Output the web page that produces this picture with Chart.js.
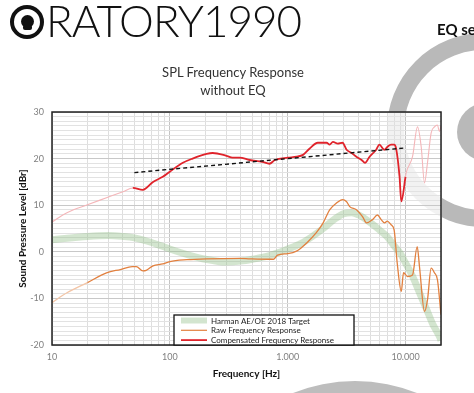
<!DOCTYPE html>
<html><head><meta charset="utf-8">
<script src="https://cdn.jsdelivr.net/npm/chart.js@4.4.1/dist/chart.umd.min.js"></script>
<style>
html,body{margin:0;padding:0;background:#fff;}
#wrap{position:relative;width:474px;height:393px;overflow:hidden;font-family:Lato,"Open Sans",sans-serif;}
canvas{position:absolute;left:0;top:0;}
#logoRing{position:absolute;left:10px;top:5px;width:26px;height:26px;border:4px solid #111;border-radius:50%;}
#logoDot{position:absolute;left:21px;top:15px;width:13px;height:13px;background:#111;border-radius:50%;}
#logoFoot{position:absolute;left:23px;top:25px;width:9px;height:5px;background:#111;border-radius:2px;}
#logoText{position:absolute;left:46px;top:-2px;font-size:44px;line-height:44px;font-weight:300;letter-spacing:-1px;color:#111;white-space:nowrap;}
#eq{position:absolute;left:437px;top:22px;font-size:15px;line-height:15px;font-weight:bold;color:#111;white-space:nowrap;}
#title{position:absolute;left:0;top:63px;width:466px;text-align:center;font-size:13px;line-height:18px;color:#333;}
</style></head>
<body>
<div id="wrap">
<canvas id="c" width="474" height="393"></canvas>
<div id="logoRing"></div><div id="logoDot"></div><div id="logoFoot"></div>
<div id="logoText">RATORY1990</div>
<div id="eq">EQ settings</div>
<div id="title">SPL Frequency Response<br>without EQ</div>
</div>
<script>
// ---- data ----
const targetFreq = [10,15,20,30,40,50,70,100,150,200,300,400,500,700,1000,1300,1600,2000,2500,3000,3500,4000,5000,6000,7000,8000,9000,10000,11500,13000,15000,17000,19500,20000];
const targetDb   = [2.6,3.0,3.3,3.5,3.3,3.0,2.0,0.6,-0.8,-1.6,-2.2,-2.0,-1.6,-0.8,0.6,1.8,3.2,5.0,7.0,8.2,8.4,7.9,6.3,4.7,3.2,1.3,-0.3,-2.4,-5.3,-8.5,-12.2,-15.5,-18.3,-19.0];

const rawFreq = [10,13.4,20,29,38,48,52,59,63,72,87,100,140,205,390,480,700,760,820,1000,1200,1450,1750,2000,2270,2600,2920,3150,3360,3830,4330,4660,5240,5770,6220,6640,7000,7540,8000,8500,9200,9620,10400,11460,12560,13140,14490,15360,16500,17600,18660,20000];
const rawDb   = [-10.9,-8.8,-6.6,-4.5,-3.8,-3.2,-3.2,-4.1,-4.0,-3.0,-2.6,-2.1,-1.7,-1.5,-1.4,-1.5,-1.6,-1.6,-0.7,-0.4,0.2,1.9,4.1,6.2,9.0,10.5,11.2,10.8,9.7,9.0,7.5,6.2,6.9,7.9,6.9,6.2,6.6,5.8,4.7,-2.4,-8.5,-4.5,-5.3,-5.0,1.1,-3.2,-12.8,-10.3,-3.5,-4.5,-6.0,-13.5];

const compFreq = [10,13.4,20,29,40,48.5,59,72,87,100,129,156,205,231,302,340,390,476,610,700,780,1000,1190,1350,1530,1800,2140,2270,2420,2660,2920,3160,3490,3830,4240,4530,4950,5640,6000,6600,7000,7540,8000,8300,8900,9200,10000,10140,11460,12640,13590,14490,15360,16500,17600,18660,19400,20000];
const compDb   = [6.4,8.4,10.1,11.6,12.9,13.7,13.3,15.0,16.1,17.2,19.1,20.0,21.0,21.2,20.6,20.2,20.2,19.7,19.3,18.9,19.7,20.2,20.4,20.8,22.1,23.4,23.4,23.0,23.6,23.2,23.4,21.9,21.2,20.4,19.7,19.1,20.4,21.9,23.0,21.9,22.5,23.0,23.0,22.3,16.1,10.8,16.1,17.0,20.4,26.8,22.5,14.8,19.1,25.5,26.8,27.2,25.8,27.0];

const trendFreq = [50,10000];
const trendDb   = [17.0,22.3];

const seriesLabels = ['Harman AE/OE 2018 Target','Raw Frequency Response','Compensated Frequency Response'];

const gridFreqs = [10,20,30,40,50,60,70,80,90,100,200,300,400,500,600,700,800,900,1000,2000,3000,4000,5000,6000,7000,8000,9000,10000,20000];
const xTickValues = [10,100,1000,10000];
const xTickLabels = ['10','100','1.000','10.000'];
const yTickValues = [-20,-10,0,10,20,30];
const yTickLabels = ['-20','-10','0','10','20','30'];

// ---- styles ----
const COL_TARGET = 'rgba(150,192,140,0.42)';
const COL_RAW = '#E2803F';
const COL_RAW_FADE = '#F3C5A6';
const COL_COMP = '#E0232B';
const COL_COMP_FADE = '#F4B6B9';

const pts = (fx, fy) => fx.map((f, i) => ({x: f, y: fy[i]}));

const watermark = {
  id: 'watermark',
  beforeDraw(chart) {
    const ctx = chart.ctx;
    ctx.save();
    ctx.strokeStyle = '#b9b9b9';
    ctx.lineWidth = 17;
    ctx.beginPath();
    ctx.arc(484, 130, 88.5, 0, Math.PI * 2);
    ctx.stroke();
    ctx.fillStyle = '#b9b9b9';
    ctx.beginPath();
    ctx.arc(486, 132, 29, 0, Math.PI * 2);
    ctx.fill();
    ctx.fillStyle = '#bdbdbd';
    ctx.beginPath();
    ctx.arc(355, 547, 166, 0, Math.PI * 2);
    ctx.fill();
    const a = chart.chartArea;
    ctx.fillStyle = 'rgba(255,255,255,0.82)';
    ctx.fillRect(a.left, a.top, a.right - a.left, a.bottom - a.top);
    ctx.restore();
  }
};

const frameLegend = {
  id: 'frameLegend',
  afterDatasetsDraw(chart) {
    const ctx = chart.ctx;
    const a = chart.chartArea;
    ctx.save();
    ctx.strokeStyle = '#222';
    ctx.lineWidth = 1.5;
    ctx.strokeRect(a.left, a.top, a.right - a.left, a.bottom - a.top);
    // legend box
    const bx = a.left + 122, bw = 180, bh = 30, by = a.bottom - bh;
    ctx.fillStyle = '#fff';
    ctx.fillRect(bx, by, bw, bh);
    ctx.strokeStyle = '#111';
    ctx.lineWidth = 1.3;
    ctx.strokeRect(bx, by, bw, bh);
    const items = [
      {label: seriesLabels[0], color: COL_TARGET, w: 6},
      {label: seriesLabels[1], color: COL_RAW, w: 1.2},
      {label: seriesLabels[2], color: COL_COMP, w: 1.8}
    ];
    ctx.font = '8px Lato, "Open Sans", sans-serif';
    ctx.textBaseline = 'middle';
    items.forEach((it, i) => {
      const y = by + 5.5 + i * 9.8;
      ctx.strokeStyle = it.color;
      ctx.lineWidth = it.w;
      ctx.beginPath();
      ctx.moveTo(bx + 7, y);
      ctx.lineTo(bx + 33, y);
      ctx.stroke();
      ctx.fillStyle = '#222';
      ctx.fillText(it.label, bx + 37, y + 0.5);
    });
    ctx.restore();
  }
};

new Chart(document.getElementById('c'), {
  type: 'line',
  data: {
    datasets: [
      {
        label: 'trend',
        data: pts(trendFreq, trendDb),
        borderColor: '#111', borderWidth: 1.4, borderDash: [4, 3],
        pointRadius: 0, fill: false
      },
      {
        label: seriesLabels[2],
        data: pts(compFreq, compDb),
        borderColor: COL_COMP, borderWidth: 1.8, pointRadius: 0, fill: false,
        cubicInterpolationMode: 'monotone',
        segment: {
          borderColor: c => (c.p0.parsed.x < 48 || c.p0.parsed.x >= 10000) ? COL_COMP_FADE : COL_COMP,
          borderWidth: c => (c.p0.parsed.x < 48 || c.p0.parsed.x >= 10000) ? 1.1 : 1.8
        }
      },
      {
        label: seriesLabels[1],
        data: pts(rawFreq, rawDb),
        borderColor: COL_RAW, borderWidth: 1.3, pointRadius: 0, fill: false,
        cubicInterpolationMode: 'monotone',
        segment: {
          borderColor: c => (c.p0.parsed.x < 18) ? COL_RAW_FADE : COL_RAW
        }
      },
      {
        label: seriesLabels[0],
        data: pts(targetFreq, targetDb),
        borderColor: COL_TARGET, borderWidth: 7, pointRadius: 0, fill: false,
        cubicInterpolationMode: 'monotone'
      }
    ]
  },
  options: {
    responsive: false,
    animation: false,
    devicePixelRatio: 1,
    layout: {padding: {top: 112, right: 33, bottom: 0, left: 0}},
    plugins: {legend: {display: false}, title: {display: false}, tooltip: {enabled: false}},
    scales: {
      x: {
        type: 'logarithmic', min: 10, max: 20000,
        afterBuildTicks: s => { s.ticks = gridFreqs.map(v => ({value: v})); },
        afterFit: s => { s.height = 48; },
        grid: {
          drawTicks: false,
          color: c => xTickValues.includes(c.tick && c.tick.value) ? '#c4c4c4' : '#dedede',
          lineWidth: 1
        },
        border: {display: false},
        ticks: {
          autoSkip: false, maxRotation: 0, padding: 7,
          color: '#808080', font: {family: 'Lato', size: 9},
          callback: v => { const i = xTickValues.indexOf(v); return i >= 0 ? xTickLabels[i] : ''; }
        },
        title: {
          display: true, text: 'Frequency [Hz]', color: '#111',
          font: {family: 'Lato', size: 10, weight: 'bold', lineHeight: 1.2},
          padding: {top: 0, bottom: 13}
        }
      },
      y: {
        min: -20, max: 30,
        afterFit: s => { s.width = 52; },
        grid: {
          drawTicks: false,
          color: c => yTickValues.includes(c.tick && c.tick.value) ? '#c8c8c8' : '#e2e2e2',
          lineWidth: 1
        },
        border: {display: false},
        ticks: {
          stepSize: 1, autoSkip: false, padding: 8,
          color: '#808080', font: {family: 'Lato', size: 9},
          callback: v => { const i = yTickValues.indexOf(v); return i >= 0 ? yTickLabels[i] : ''; }
        },
        title: {
          display: true, text: 'Sound Pressure Level [dBr]', color: '#111',
          font: {family: 'Lato', size: 10, weight: 'bold', lineHeight: 1.2},
          padding: {top: 17, bottom: 0}
        }
      }
    }
  },
  plugins: [watermark, frameLegend]
});
</script>
</body></html>
